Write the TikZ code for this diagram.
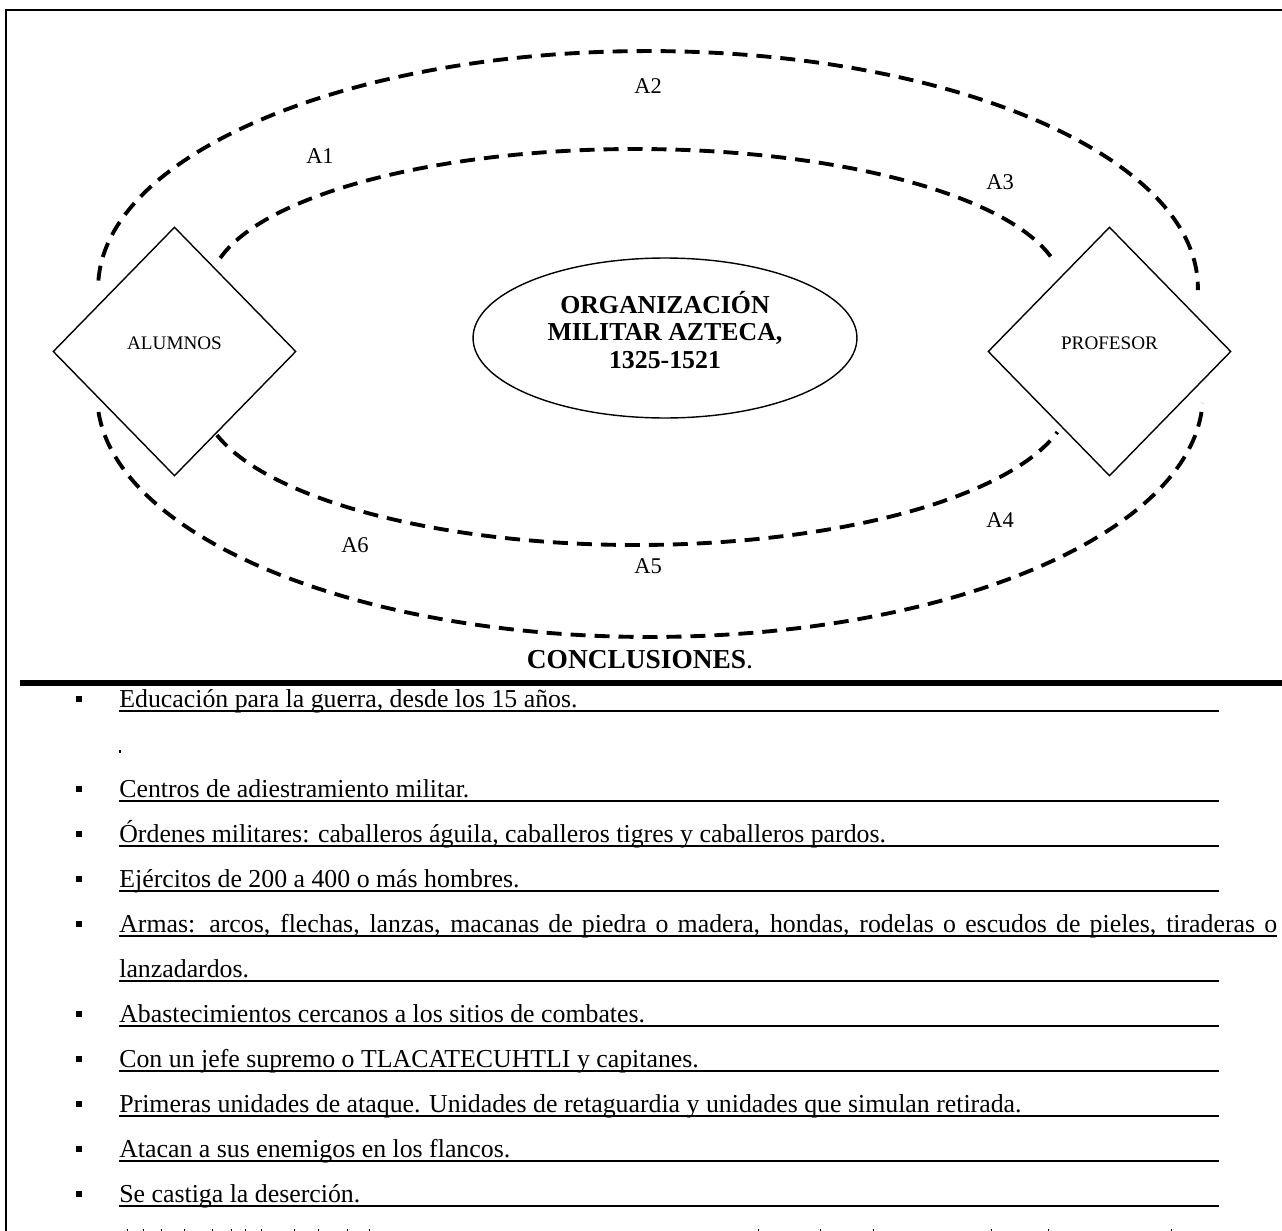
\documentclass[tikz,border=0pt]{standalone}
\usepackage{fontspec}
\setmainfont{Liberation Serif}
\usetikzlibrary{shapes.geometric,calc}

\begin{document}
\begin{tikzpicture}[x=0.02cm,y=-0.02cm,
  frame/.style={line width=1.3pt},
  arcline/.style={line width=2.2pt, dash pattern=on 0.3cm off 0.18cm},
  role/.style={diamond, draw, line width=0.8pt, minimum width=4.86cm, minimum height=4.98cm,
    inner sep=0pt, font=\fontsize{10.9}{13}\selectfont, text depth=0.34cm},
  theme/.style={ellipse, draw, line width=0.8pt, minimum width=7.68cm, minimum height=3.2cm,
    inner sep=0pt},
  themetext/.style={inner sep=0pt, align=center, font=\fontsize{14.7}{15.9}\selectfont\bfseries},
  tag/.style={font=\fontsize{12.8}{14}\selectfont, inner sep=0pt},
  item/.style={anchor=base west, inner sep=0pt, font=\fontsize{14.7}{17}\selectfont},
  rule/.style={line width=1.1pt},
  sq/.style={fill=black, minimum width=0.11cm, minimum height=0.12cm, inner sep=0pt}
]
\useasboundingbox (0,0) rectangle (1282,1231);

% page frame and separating bar
\draw[frame] (6,1231) -- (6,10) -- (1282,10);
\draw[line width=3.3pt] (20,683) -- (1282,683);

% central theme and the two roles
\node[theme] (tema) at (665,338) {};
\node[themetext] (tematxt) at (665,330) {ORGANIZACIÓN\\MILITAR AZTECA,\\1325-1521};
\node[role] (alum) at (174.5,351.5) {ALUMNOS};
\node[role] (prof) at (1109.5,351.5) {PROFESOR};

% arc centres
\coordinate (co1) at (648,288);
\coordinate (ci1) at (636,290);
\coordinate (ci2) at (636,395);
\coordinate (co2) at (650,395);

% dashed exchange arcs
\draw[arcline] (co1) ++(178.2:11cm and 4.74cm)
  arc[start angle=178.2, end angle=-0.5, x radius=11cm, y radius=4.74cm];
\draw[arcline] (ci1) ++(166.9:8.54cm and 2.82cm)
  arc[start angle=166.9, end angle=11.5, x radius=8.54cm, y radius=2.82cm];
\draw[arcline] (ci2) ++(195.5:8.7cm and 3cm)
  arc[start angle=195.5, end angle=345.7, x radius=8.7cm, y radius=3cm];
\draw[arcline] (co2) ++(184.03:11.06cm and 4.84cm)
  arc[start angle=184.03, end angle=358.1, x radius=11.06cm, y radius=4.84cm];

% arc labels
\node[tag] (a1) at (320,156) {A1};
\node[tag] (a2) at (648,86) {A2};
\node[tag] (a3) at (1000,182) {A3};
\node[tag] (a4) at (1000,520) {A4};
\node[tag] (a5) at (648,566) {A5};
\node[tag] (a6) at (355,545) {A6};

% conclusions
\node[anchor=base, inner sep=0pt, font=\fontsize{15.6}{17}\selectfont] (concl) at (640,668)
  {\textbf{CONCLUSIONES}.};

\foreach \n/\y in {1/707,3/797,4/842,5/887,6/932,8/1022,9/1067,10/1112,11/1157,12/1202}
  \node[sq] (bul\n) at (79,\y-8) {};

\node[item] (t1) at (119,707) {Educación para la guerra, desde los 15 años.};
\fill (119,750) rectangle (120.5,753);
\node[item] (t3) at (119,797) {Centros de adiestramiento militar.};
\node[item] (t4) at (119,842) {Órdenes militares: caballeros águila, caballeros tigres y caballeros pardos.};
\node[item] (t5) at (119,887) {Ejércitos de 200 a 400 o más hombres.};
\node[item] (t6) at (119,932) {\hbox to 23.16cm{Armas: arcos, flechas, lanzas, macanas de piedra o madera, hondas, rodelas o escudos de pieles, tiraderas o}};
\node[item] (t7) at (119,977) {lanzadardos.};
\node[item] (t8) at (119,1022) {Abastecimientos cercanos a los sitios de combates.};
\node[item] (t9) at (119,1067) {Con un jefe supremo o TLACATECUHTLI y capitanes.};
\node[item] (t10) at (119,1112) {Primeras unidades de ataque. Unidades de retaguardia y unidades que simulan retirada.};
\node[item] (t11) at (119,1157) {Atacan a sus enemigos en los flancos.};
\node[item] (t12) at (119,1202) {Se castiga la deserción.};

% underlines of the answer lines
\foreach \y in {711,801,846,891,981,1026,1071,1116,1161,1206}
  \draw[rule] (119,\y) -- (1219,\y);
\draw[rule] (119,936) -- (1277,936);

% ascenders of the next line, cut by the page edge
\foreach \x in {127,143,161,184,212,231,245,261,294,318,347,369,758,820,873,991,1048,1171}
  \fill (\x,1228.5) rectangle ++(1.4,2.5);
\end{tikzpicture}
\end{document}
